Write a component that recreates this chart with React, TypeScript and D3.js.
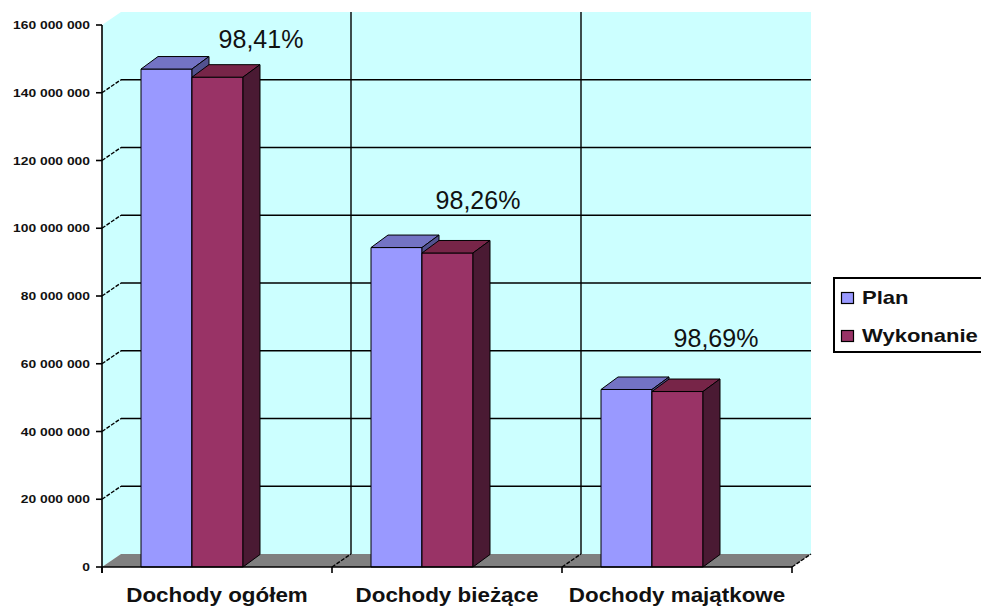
import React from "react";
import * as d3 from "d3";

// ---- data ----
const categories = ["Dochody ogółem", "Dochody bieżące", "Dochody majątkowe"];
const seriesNames = ["Plan", "Wykonanie"];
const planValues = [147.0e6, 94.3e6, 52.4e6];
const wykonanieValues = [144.6e6, 92.7e6, 51.8e6];
const percentLabels = ["98,41%", "98,26%", "98,69%"];
const yTickValues = [0, 20e6, 40e6, 60e6, 80e6, 100e6, 120e6, 140e6, 160e6];

// ---- layout / style ----
const W = 981;
const H = 606;
const plot = { left: 102, right: 792, top: 25, bottom: 567 };
const wallD = { dx: 19, dy: -13 };
const barD = { dx: 17, dy: -12.5 };
const labelLayout = [
  { cx: 159, y: 48 },
  { cx: 146, y: 209 },
  { cx: 154, y: 347 },
];
const colors = {
  wall: "#CCFFFF",
  floor: "#808080",
  plan: { front: "#9999FF", top: "#7373C4", side: "#52528F" },
  wyk: { front: "#993366", top: "#772548", side: "#4A1A33" },
};

const fmtLocale = d3.formatLocale({
  decimal: ",",
  thousands: " ",
  grouping: [3],
  currency: ["", ""],
});
const fmt = fmtLocale.format(",");

function Bar({ x, w, y0, y1, c }: { x: number; w: number; y0: number; y1: number; c: any }) {
  const { dx, dy } = barD;
  const front = `M${x},${y1}H${x + w}V${y0}H${x}Z`;
  const top = `M${x},${y1}L${x + dx},${y1 + dy}H${x + w + dx}L${x + w},${y1}Z`;
  const side = `M${x + w},${y1}L${x + w + dx},${y1 + dy}V${y0 + dy}L${x + w},${y0}Z`;
  return (
    <g stroke="#000" strokeWidth={1} strokeLinejoin="round">
      <path d={front} fill={c.front} />
      <path d={top} fill={c.top} />
      <path d={side} fill={c.side} />
    </g>
  );
}

export default function App() {
  const y = d3.scaleLinear().domain([0, 160e6]).range([plot.bottom, plot.top]);
  const x = d3.scaleBand<string>().domain(categories).range([plot.left, plot.right]).padding(0);
  const inner = d3.scaleBand<string>().domain(seriesNames).range([39, 141]).padding(0);
  const bw = inner.bandwidth();

  const bL = plot.left + wallD.dx;
  const bR = plot.right + wallD.dx;
  const bTop = plot.top + wallD.dy;
  const bBot = plot.bottom + wallD.dy;

  const gridTicks = yTickValues.filter((v) => v > 0 && v < 160e6);
  const catEdges = [plot.left, ...categories.map((c) => (x(c) as number) + x.bandwidth())];

  const data = [
    { name: "Plan", values: planValues, c: colors.plan },
    { name: "Wykonanie", values: wykonanieValues, c: colors.wyk },
  ];

  return (
    <div style={{ position: "absolute", left: 0, top: 0 }}>
      <svg width={W} height={H} viewBox={`0 0 ${W} ${H}`} style={{ display: "block", background: "#fff" }}
        fontFamily="'Liberation Sans', Arial, sans-serif">
        {/* walls */}
        <polygon
          points={`${plot.left},${plot.top} ${bL},${bTop} ${bL},${bBot} ${plot.left},${plot.bottom}`}
          fill={colors.wall}
        />
        <rect x={bL} y={bTop} width={bR - bL} height={bBot - bTop} fill={colors.wall} />
        {/* floor */}
        <polygon
          points={`${plot.left},${plot.bottom} ${plot.right},${plot.bottom} ${bR},${bBot} ${bL},${bBot}`}
          fill={colors.floor}
        />
        {/* gridlines */}
        <g stroke="#000" strokeWidth={1.4} fill="none">
          {gridTicks.map((v) => (
            <g key={v}>
              <line x1={bL} x2={bR} y1={y(v) + wallD.dy} y2={y(v) + wallD.dy} />
              <line x1={plot.left} y1={y(v)} x2={bL} y2={y(v) + wallD.dy} strokeDasharray="4,1.5" />
            </g>
          ))}
          {catEdges.slice(1, -1).map((e) => (
            <line key={e} x1={e + wallD.dx} x2={e + wallD.dx} y1={bTop} y2={bBot} />
          ))}
          {catEdges.slice(1).map((e) => (
            <line key={"d" + e} x1={e} y1={plot.bottom} x2={e + wallD.dx} y2={bBot} strokeDasharray="4,1.5" />
          ))}
        </g>
        {/* bars */}
        {categories.map((cat, i) => (
          <g key={cat}>
            {data.map((s) => (
              <Bar
                key={s.name}
                x={(x(cat) as number) + (inner(s.name) as number)}
                w={bw}
                y0={y(0)}
                y1={y(s.values[i])}
                c={s.c}
              />
            ))}
          </g>
        ))}
        {/* axes */}
        <g stroke="#000" strokeWidth={1.6}>
          <line x1={plot.left} x2={plot.left} y1={plot.top} y2={plot.bottom + 6} />
          <line x1={plot.left} x2={plot.right} y1={plot.bottom} y2={plot.bottom} />
          {yTickValues.map((v) => (
            <line key={v} x1={plot.left - 6} x2={plot.left} y1={y(v)} y2={y(v)} />
          ))}
          {catEdges.map((e) => (
            <line key={e} x1={e} x2={e} y1={plot.bottom} y2={plot.bottom + 6} />
          ))}
        </g>
        {/* y tick labels */}
        <g fontWeight="bold" fontSize={11} fill="#111" textAnchor="end">
          {yTickValues.map((v) => (
            <text key={v} transform={`translate(${plot.left - 12},${y(v) + 4}) scale(1.26,1)`}>
              {fmt(v)}
            </text>
          ))}
        </g>
        {/* category labels */}
        <g fontWeight="bold" fontSize={20} fill="#111" textAnchor="middle">
          {categories.map((cat) => (
            <text
              key={cat}
              transform={`translate(${(x(cat) as number) + x.bandwidth() / 2},602) scale(1.12,1)`}
            >
              {cat}
            </text>
          ))}
        </g>
        {/* percent labels */}
        <g fontSize={25} fill="#111" textAnchor="middle">
          {categories.map((cat, i) => (
            <text key={cat} x={(x(cat) as number) + labelLayout[i].cx} y={labelLayout[i].y}>
              {percentLabels[i]}
            </text>
          ))}
        </g>
        {/* legend */}
        <g>
          <rect x={834} y={278} width={150} height={74} fill="#fff" stroke="#000" strokeWidth={2} />
          {data.map((s, i) => (
            <g key={s.name} transform={`translate(841,${292 + i * 38})`}>
              <rect x={0.5} y={0.5} width={12} height={11} fill={s.c.front} stroke="#000" strokeWidth={1.2} />
              <text
                transform={`translate(21,11.5) scale(1.16,1)`}
                fontWeight="bold"
                fontSize={19}
                fill="#111"
              >
                {s.name}
              </text>
            </g>
          ))}
        </g>
      </svg>
    </div>
  );
}
